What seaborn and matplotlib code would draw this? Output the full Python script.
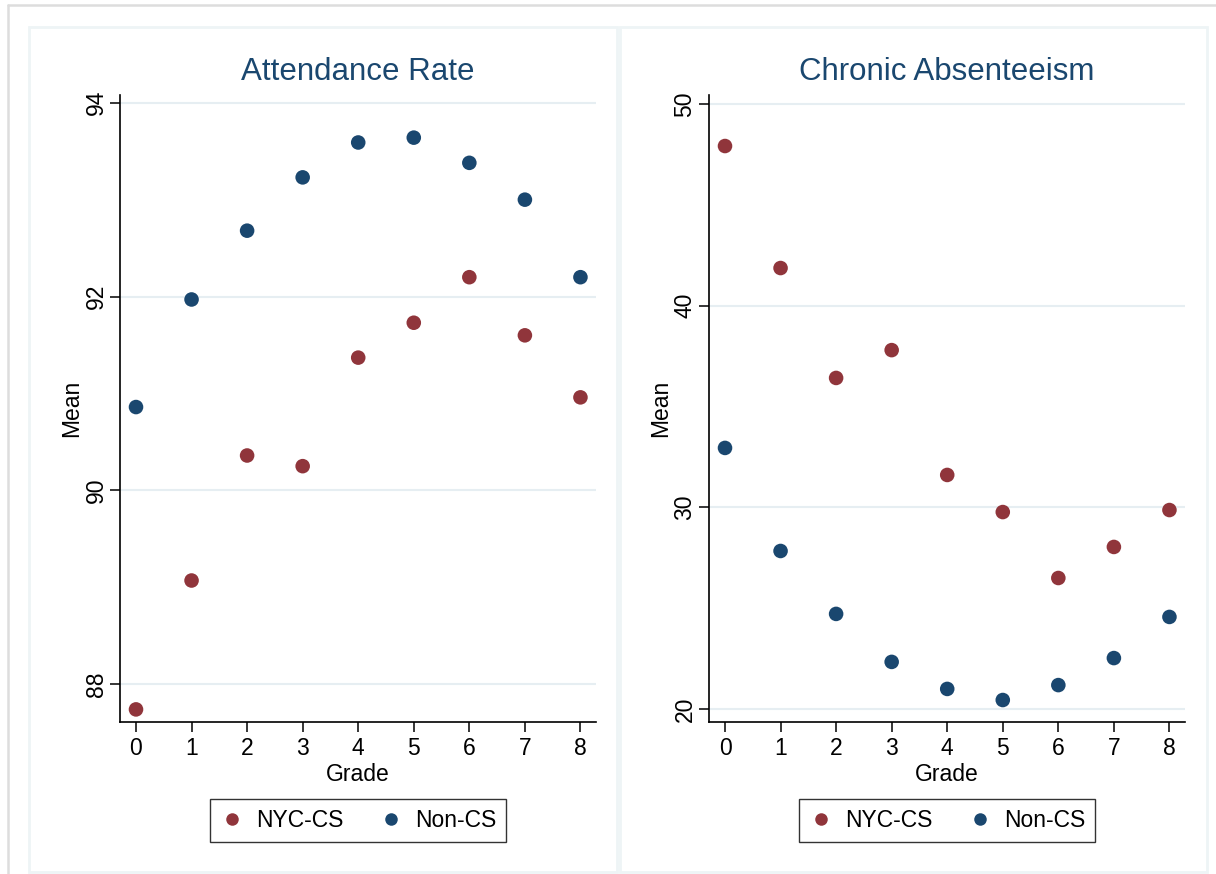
import pandas as pd
import matplotlib.pyplot as plt
import seaborn as sns
from matplotlib.patches import Rectangle
from matplotlib.lines import Line2D

# Dados
grades = [0, 1, 2, 3, 4, 5, 6, 7, 8]
groups = ["NYC-CS", "Non-CS"]

attend_nyc = [87.74, 89.07, 90.36, 90.25, 91.37, 91.73, 92.20, 91.60, 90.96]
attend_non = [90.86, 91.97, 92.68, 93.23, 93.59, 93.64, 93.38, 93.00, 92.20]

chronic_nyc = [47.92, 41.87, 36.42, 37.80, 31.61, 29.77, 26.50, 28.04, 29.87]
chronic_non = [32.95, 27.84, 24.72, 22.34, 21.00, 20.45, 21.19, 22.53, 24.57]

attend_ticks = [88, 90, 92, 94]
chronic_ticks = [20, 30, 40, 50]


def long_table(nyc, non):
    return pd.DataFrame({
        "Grade": grades * 2,
        "Mean": nyc + non,
        "Group": [groups[0]] * len(grades) + [groups[1]] * len(grades),
    })


sns.set_style("white")
plt.rcParams["font.family"] = ["Liberation Sans", "DejaVu Sans"]
plt.rcParams["text.color"] = "black"
plt.rcParams["axes.labelcolor"] = "black"
plt.rcParams["xtick.color"] = "black"
plt.rcParams["ytick.color"] = "black"

maroon = "#90353B"
navy = "#1A476F"
palette = {groups[0]: maroon, groups[1]: navy}
grid_col = "#E6EEF2"
panel_col = "#EEF4F6"

fig = plt.figure(figsize=(12.16, 8.74), dpi=100)
W, H = 1216, 874

# moldura externa (so topo e esquerda aparecem) e paineis
fig.add_artist(Line2D([8 / W, 1], [1 - 5 / H, 1 - 5 / H], transform=fig.transFigure,
                      color="#DDDDDD", linewidth=1.8))
fig.add_artist(Line2D([8 / W, 8 / W], [0, 1 - 5 / H], transform=fig.transFigure,
                      color="#DDDDDD", linewidth=1.8))
for x0, x1 in [(29, 617), (620, 1207)]:
    fig.patches.append(Rectangle((x0 / W, 1 - 872 / H), (x1 - x0) / W, 845 / H,
                                 transform=fig.transFigure, fill=False,
                                 edgecolor=panel_col, linewidth=2))

panels = [
    ("Attendance Rate", long_table(attend_nyc, attend_non), attend_ticks,
     (87.61, 94.08), 120),
    ("Chronic Absenteeism", long_table(chronic_nyc, chronic_non), chronic_ticks,
     (19.36, 50.45), 709),
]

for title, df, yticks, ylim, left_px in panels:
    ax = fig.add_axes([left_px / W, 1 - 722 / H, 476 / W, 627 / H])
    sns.scatterplot(data=df, x="Grade", y="Mean", hue="Group", palette=palette,
                    s=110, edgecolor="none", legend=False, ax=ax, zorder=3)
    ax.set_xlim(-0.288, 8.28)
    ax.set_ylim(*ylim)
    ax.set_xticks(grades)
    ax.set_yticks(yticks)
    for y in yticks:
        ax.axhline(y, color=grid_col, linewidth=1.5, zorder=1)
    ax.spines["top"].set_visible(False)
    ax.spines["right"].set_visible(False)
    for s in ["left", "bottom"]:
        ax.spines[s].set_color("black")
        ax.spines[s].set_linewidth(1.2)
    ax.tick_params(axis="both", direction="out", length=7, width=1.1,
                   color="black", labelsize=16.5, pad=4, left=True, bottom=True)
    ax.tick_params(axis="y", pad=2)
    plt.setp(ax.get_yticklabels(), rotation=90, va="center")
    ax.set_xlabel("Grade", fontsize=16.5, labelpad=2)
    ax.set_ylabel("Mean", fontsize=16.5, labelpad=1)
    ax.set_title(title, fontsize=22.5, color=navy, pad=11)

    handles = [Line2D([], [], marker="o", linestyle="", markersize=9,
                      markerfacecolor=palette[g], markeredgecolor="none")
               for g in groups]
    leg = ax.legend(handles, groups, loc="center", bbox_to_anchor=(0.5, -0.157),
                    ncol=2, fontsize=16.5, frameon=True, fancybox=False,
                    handletextpad=0.5, columnspacing=1.5, borderpad=0.45,
                    handlelength=1.1, borderaxespad=0)
    leg.get_frame().set_edgecolor("black")
    leg.get_frame().set_linewidth(1.0)

plt.savefig("out.png", dpi=100)
